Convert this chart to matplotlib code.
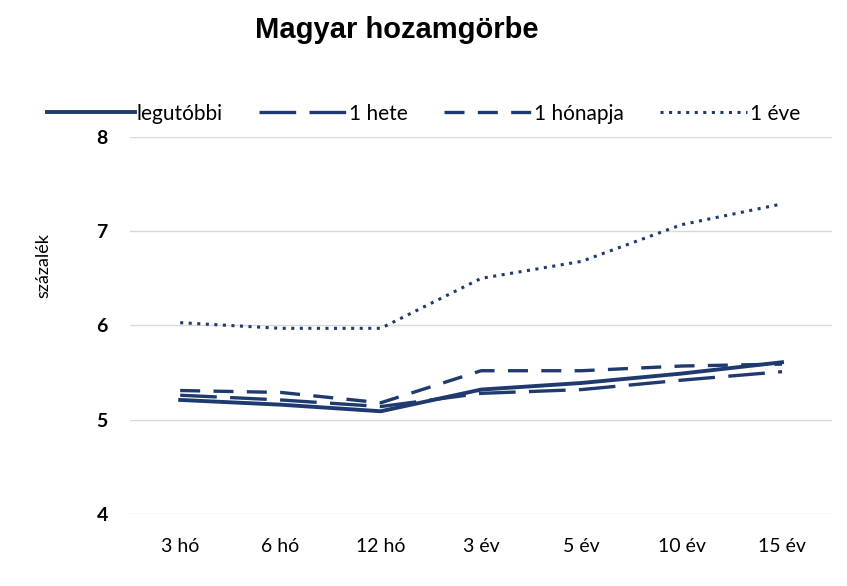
import matplotlib
matplotlib.use("Agg")
import matplotlib.pyplot as plt

# adatok
lejaratok = ['3 hó', '6 hó', '12 hó', '3 év', '5 év', '10 év', '15 év']
legutobbi = [5.21, 5.16, 5.09, 5.32, 5.39, 5.49, 5.61]
egy_hete = [5.26, 5.21, 5.14, 5.28, 5.32, 5.42, 5.51]
egy_honapja = [5.31, 5.29, 5.18, 5.52, 5.52, 5.57, 5.59]
egy_eve = [6.03, 5.97, 5.97, 6.50, 6.68, 7.07, 7.29]

szin = '#1F3A6E'
plt.rcParams['font.family'] = ['Lato', 'DejaVu Sans']

fig = plt.figure(figsize=(8.47, 5.86), dpi=100)
ax = fig.add_axes([0.1535, 0.1229, 0.829, 0.6433])

x = range(len(lejaratok))
ax.plot(x, legutobbi, color=szin, lw=2.8, ls='-', label='legutóbbi')
ax.plot(x, egy_hete, color=szin, lw=2.4, ls=(0, (11, 4)), label='1 hete')
ax.plot(x, egy_honapja, color=szin, lw=2.4, ls=(0, (6, 4)), label='1 hónapja')
ax.plot(x, egy_eve, color=szin, lw=2.2, ls=(0, (1, 1.8)), label='1 éve')

ax.set_xlim(-0.5, len(lejaratok) - 0.5)
ax.set_ylim(4, 8)
ax.set_yticks([4, 5, 6, 7, 8])
ax.set_xticks(list(x))
ax.set_xticklabels(lejaratok, fontsize=14)
ax.tick_params(axis='both', length=0)
ax.tick_params(axis='y', pad=16, labelsize=14)
for t in ax.get_yticklabels():
    t.set_fontweight('bold')
ax.tick_params(axis='x', pad=17)
ax.grid(axis='y', color='#d9d9d9', lw=1)
ax.set_axisbelow(True)
for s in ax.spines.values():
    s.set_visible(False)

fig.text(0.051, 0.547, 'százalék', rotation=90, fontsize=13, ha='center', va='center')
fig.text(0.469, 0.949, 'Magyar hozamgörbe', fontsize=21, fontweight='bold',
         family='Liberation Sans', ha='center', va='center')

fig.legend(loc='center', bbox_to_anchor=(0.500, 0.806), ncol=4, frameon=False,
           fontsize=15, handlelength=4.2, handletextpad=0.1, columnspacing=1.75)

fig.savefig('out.png', dpi=100, facecolor='white')
